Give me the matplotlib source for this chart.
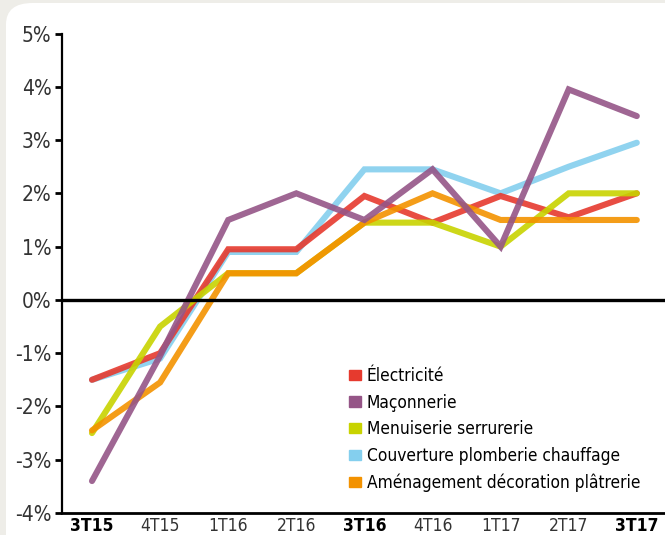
import matplotlib
matplotlib.use("Agg")
import matplotlib.pyplot as plt
from matplotlib.patches import FancyBboxPatch
from matplotlib import font_manager as fm

# quarters and bold ones
quarters = ["3T15", "4T15", "1T16", "2T16", "3T16", "4T16", "1T17", "2T17", "3T17"]
bold_quarters = ["3T15", "3T16", "3T17"]

electricite = [-1.5, -1.0, 0.95, 0.95, 1.95, 1.45, 1.95, 1.55, 2.0]
maconnerie = [-3.4, -1.05, 1.5, 2.0, 1.5, 2.45, 1.0, 3.95, 3.45]
menuiserie = [-2.5, -0.5, 0.5, 0.5, 1.45, 1.45, 1.0, 2.0, 2.0]
couverture = [-1.5, -1.1, 0.9, 0.9, 2.45, 2.45, 2.0, 2.5, 2.95]
amenagement = [-2.45, -1.55, 0.5, 0.5, 1.45, 2.0, 1.5, 1.5, 1.5]

series_names = ["Électricité", "Maçonnerie", "Menuiserie serrurerie",
                "Couverture plomberie chauffage", "Aménagement décoration plâtrerie"]
series_colors = ["#E63A2E", "#955587", "#C8D300", "#84CFEE", "#F39200"]

yticks = [5, 4, 3, 2, 1, 0, -1, -2, -3, -4]


def narrow_font(bold=False):
    # look for any condensed / narrow face that is installed
    found = []
    for f in fm.fontManager.ttflist:
        nm = f.name.lower() + " " + f.fname.lower()
        is_narrow = ("narrow" in nm or "condensed" in nm or "cond" in f.fname.lower()
                     or str(f.stretch) in ("condensed", "semi-condensed", "extra-condensed"))
        if not is_narrow or "oblique" in nm or "italic" in nm:
            continue
        w = f.weight if isinstance(f.weight, int) else (700 if "bold" in str(f.weight) else 400)
        if bold and w >= 600:
            found.append(f.fname)
        if not bold and 350 <= w < 600:
            found.append(f.fname)
    if found:
        return fm.FontProperties(fname=sorted(found)[0])
    return fm.FontProperties(family="DejaVu Sans", weight="bold" if bold else "normal")


fp_reg = narrow_font()
fp_bold = narrow_font(bold=True)

W, H = 665, 535
fig = plt.figure(figsize=(W / 100, H / 100), dpi=100)
fig.patch.set_facecolor("#EEEDE8")

# white rounded panel, behind the axes
panel = FancyBboxPatch((6 / W, -0.2), 1.2, 1.2 - 3 / H,
                       boxstyle="round,pad=0,rounding_size=0.04",
                       transform=fig.transFigure, facecolor="white",
                       edgecolor="none", zorder=-10)
fig.add_artist(panel)

ax = fig.add_axes([62 / W, (H - 513) / H, 1 - 62 / W, (513 - 33.5) / H])
ax.set_facecolor("none")

x = list(range(len(quarters)))
data = [electricite, maconnerie, menuiserie, couverture, amenagement]
draw_order = [3, 0, 2, 4, 1]
for i in draw_order:
    ax.plot(x, data[i], color=series_colors[i], lw=4.4, alpha=0.9,
            solid_capstyle="round", solid_joinstyle="miter")

ax.axhline(0, color="black", lw=2.4, zorder=5)

ax.set_ylim(-4, 5)
ax.set_xlim((62 - 92) / 68.1, (665 - 92) / 68.1)
ax.set_yticks(yticks)
ax.set_yticklabels([f"{v}%" for v in yticks], color="#333333",
                   fontproperties=fp_reg, fontsize=15)
ax.set_xticks(x)
ax.set_xticklabels(quarters)
for lbl in ax.get_xticklabels():
    lbl.set_fontproperties(fp_bold if lbl.get_text() in bold_quarters else fp_reg)
    lbl.set_fontsize(12.5)
    if lbl.get_text() not in bold_quarters:
        lbl.set_color("#333333")
ax.tick_params(axis="y", length=5, width=2, direction="out", pad=2.5)
ax.tick_params(axis="x", length=0, pad=3)

for s in ["top", "right"]:
    ax.spines[s].set_visible(False)
ax.spines["left"].set_linewidth(1.6)
ax.spines["bottom"].set_linewidth(2)

leg_handles = [plt.Rectangle((0, 0), 1, 1, color=c) for c in series_colors]
leg_font = fp_reg.copy()
leg_font.set_size(12.4)
ax.legend(leg_handles, series_names, loc="upper left",
          bbox_to_anchor=((349 - 62) / (W - 62), 1 - (367 - 33.5) / (513 - 33.5)),
          frameon=False, prop=leg_font, handlelength=0.72, handleheight=0.55,
          handletextpad=0.3, labelspacing=0.5, borderaxespad=0, borderpad=0)

fig.savefig("out.png", dpi=100, facecolor=fig.get_facecolor())
